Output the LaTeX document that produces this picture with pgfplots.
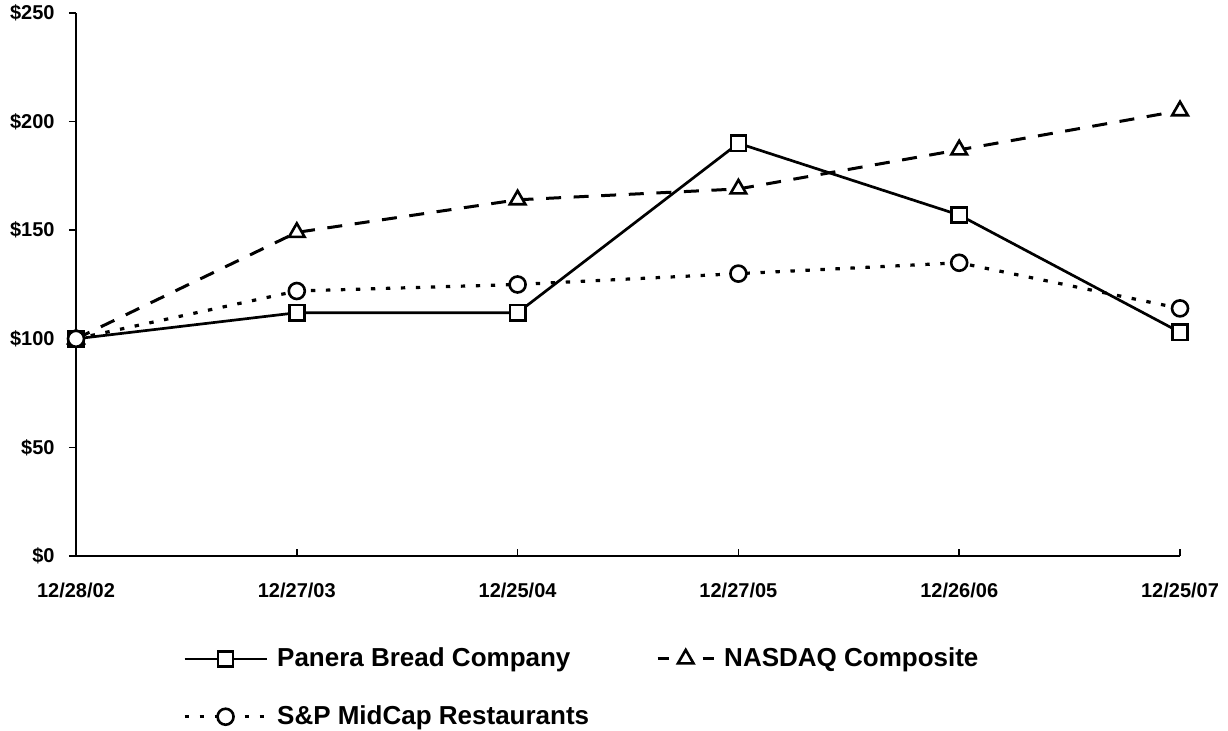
\documentclass[border=0pt]{standalone}
\usepackage{fontspec}
\setmainfont{Liberation Sans}
\usepackage{pgfplots}
\pgfplotsset{compat=1.18}
\begin{document}
\begin{tikzpicture}
\useasboundingbox (0bp,0bp) rectangle (614bp,365.5bp);
\begin{axis}[
  at={(38bp,87.5bp)}, anchor=south west,
  scale only axis, width=552bp, height=271.5bp,
  xmin=0, xmax=5, ymin=0, ymax=250,
  axis x line=bottom, axis y line=left,
  axis line style={-, line width=1bp, black},
  xtick={0,...,5},
  xticklabels={12/28/02,12/27/03,12/25/04,12/27/05,12/26/06,12/25/07},
  ytick={0,50,...,250},
  yticklabels={\$0,\$50,\$100,\$150,\$200,\$250},
  tick align=inside, major tick length=3.5bp,
  tick style={black, line width=0.8bp},
  ytick style={xshift=-3.5bp},
  ticklabel style={font=\bfseries\fontsize{10bp}{12bp}\selectfont, inner sep=0pt},
  xticklabel style={anchor=north, yshift=-13.5bp},
  yticklabel style={anchor=east, xshift=-10.5bp},
  clip=false,
  legend columns=2,
  legend cell align=left,
  legend style={draw=none, fill=none, inner sep=0pt, outer sep=0pt,
    at={(0.0969,-0.1694)}, anchor=north west,
    font=\bfseries\fontsize{13bp}{15bp}\selectfont,
    nodes={inner sep=0pt},
    row sep=18bp,
    /tikz/every odd column/.style={column sep=4.5bp},
    /tikz/every even column/.style={column sep=33.5bp}},
]
\addplot[black, line width=1.35bp, mark=square*, mark size=3.8bp,
  mark options={solid, fill=white, line width=1.3bp},
  legend image code/.code={\draw[mark repeat=2,mark phase=2] plot coordinates {(0bp,0bp)(20.5bp,0bp)(41bp,0bp)};}]
  coordinates {(0,100)(1,112)(2,112)(3,190)(4,157)(5,103)};
\addplot[black, line width=1.5bp, dash pattern=on 7.5bp off 6.3bp, mark=triangle*, mark size=4.5bp,
  mark options={solid, fill=white, line width=1.3bp},
  legend image code/.code={\draw[solid, mark=none] (0bp,0bp)--(5.5bp,0bp) (22.5bp,0bp)--(28bp,0bp);
    \draw[mark repeat=2,mark phase=2, dash pattern=on 0pt off 100bp] plot coordinates {(0bp,0bp)(14bp,0bp)(28bp,0bp)};}]
  coordinates {(0,100)(1,149)(2,164)(3,169)(4,187)(5,205)};
\addplot[black, line width=1.6bp, dash pattern=on 2.2bp off 5.3bp, mark=*, mark size=4bp,
  mark options={solid, fill=white, line width=1.3bp},
  legend image code/.code={\draw[mark repeat=2,mark phase=2] plot coordinates {(0bp,0bp)(20.5bp,0bp)(41bp,0bp)};}]
  coordinates {(0,100)(1,122)(2,125)(3,130)(4,135)(5,114)};
\legend{Panera Bread Company, NASDAQ Composite, S\&P MidCap Restaurants}
\end{axis}
\end{tikzpicture}
\end{document}
